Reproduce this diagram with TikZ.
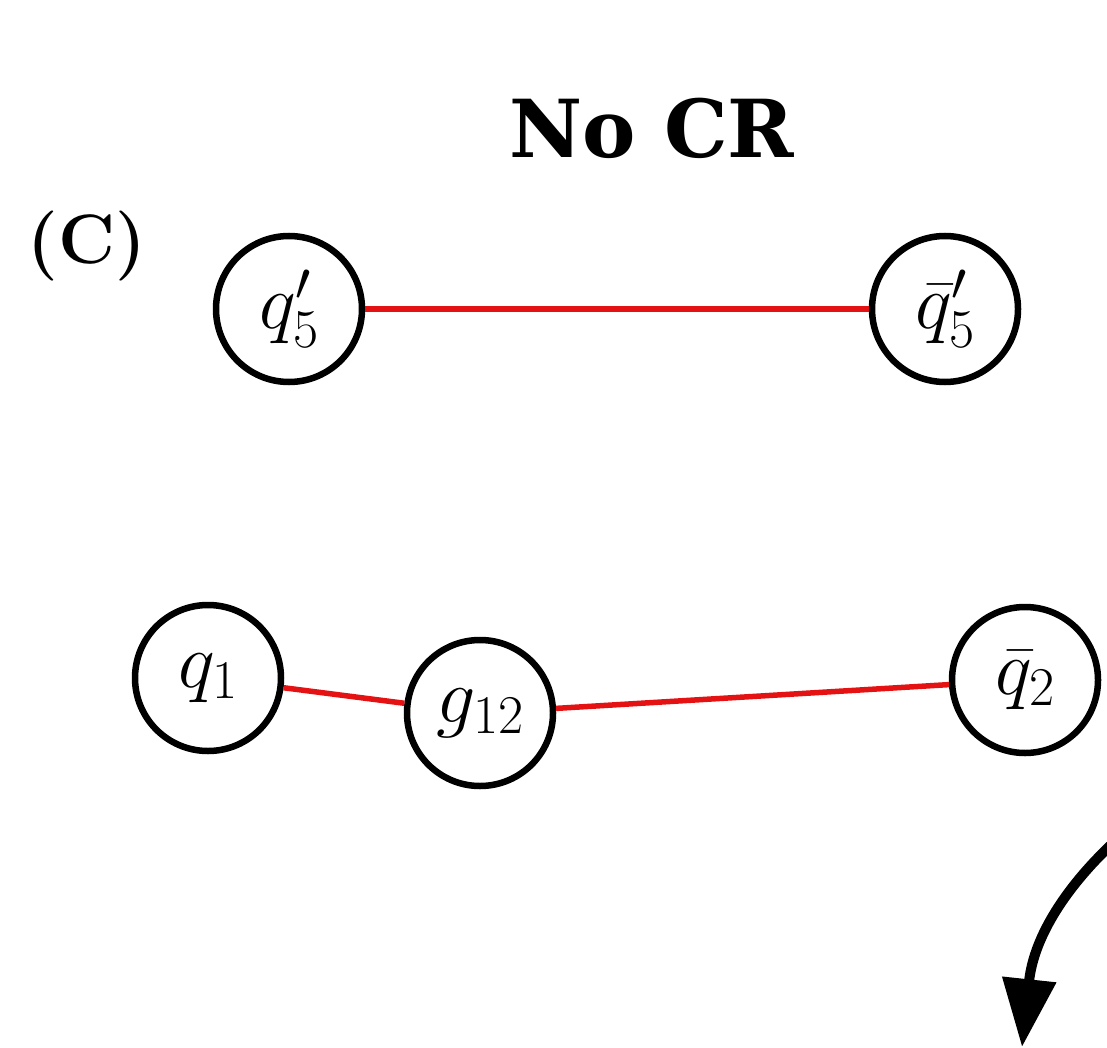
\RequirePackage{fix-cm}
\documentclass[tikz,border=0pt]{standalone}
\usepackage{fontspec}
\newfontfamily\titlefont{DejaVu Serif}
\usetikzlibrary{arrows.meta}
\definecolor{edgered}{RGB}{228,18,18}
\tikzset{
  particle/.style={circle, draw=black, line width=6.5pt, minimum size=146pt, inner sep=0pt,
    font=\fontsize{78}{80}\selectfont},
  link/.style={draw=edgered, line width=5.5pt},
  flow/.style={line width=10pt, -{Triangle[length=68pt,width=52pt]}}
}
\begin{document}
\begin{tikzpicture}[x=1pt,y=-1pt]
\useasboundingbox (0,0) rectangle (1107,1048);
\node (title) at (652,128) {\titlefont\bfseries\fontsize{80}{90}\selectfont No CR};
\node (label) at (87,246) {\fontsize{70}{74}\selectfont\bfseries (C)};
\node[particle] (q5) at (289,309) {$q_5'$};
\node[particle] (q5b) at (945,309) {$\bar q_5'$};
\node[particle] (q1) at (208,678) {$q_1$};
\node[particle] (g12) at (480,713) {$g_{12}$};
\node[particle] (q2b) at (1025,680) {$\bar q_2$};
\draw[link] (q5) -- (q5b);
\draw[link] (q1) -- (g12);
\draw[link] (g12) -- (q2b);
\coordinate (arrstart) at (1114,842);
\coordinate (arrtip) at (1022,1047);
\draw[flow] (arrstart) .. controls (1068,885) and (1034,935) .. (arrtip);
\end{tikzpicture}
\end{document}
